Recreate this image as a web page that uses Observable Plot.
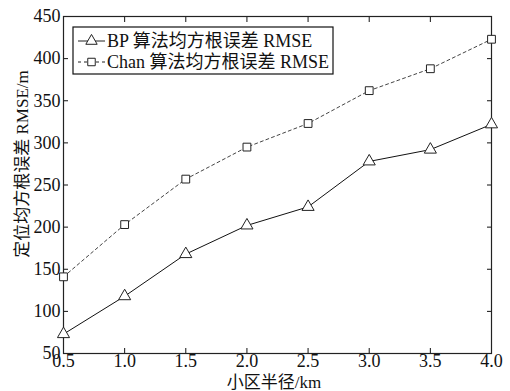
<!DOCTYPE html>
<html>
<head>
<meta charset="utf-8">
<script src="https://cdn.jsdelivr.net/npm/d3@7"></script>
<script src="https://cdn.jsdelivr.net/npm/@observablehq/plot@0.6"></script>
<style>
  html, body { margin: 0; padding: 0; background: #fff; }
  #chart svg { display: block; }
</style>
</head>
<body>
<div id="chart"></div>
<script>
const radius = [0.5, 1.0, 1.5, 2.0, 2.5, 3.0, 3.5, 4.0];
const bpRMSE = [73, 118, 168, 202, 224, 278, 292, 322];
const chanRMSE = [141, 203, 257, 295, 323, 362, 388, 423];
const xTicks = [0.5, 1.0, 1.5, 2.0, 2.5, 3.0, 3.5, 4.0];
const yTicks = [50, 100, 150, 200, 250, 300, 350, 400, 450];
const seriesNames = ["BP 算法均方根误差 RMSE", "Chan 算法均方根误差 RMSE"];
const xLabel = "小区半径/km";
const yLabel = "定位均方根误差 RMSE/m";

const bp = radius.map((r, i) => ({x: r, y: bpRMSE[i]}));
const chan = radius.map((r, i) => ({x: r, y: chanRMSE[i]}));

const FONT = "'Liberation Serif', 'Noto Sans CJK SC', serif";
const W = 510, H = 391;
const mL = 63, mR = 19, mT = 16, mB = 38;

const chart = Plot.plot({
  width: W, height: H,
  marginLeft: mL, marginRight: mR, marginTop: mT, marginBottom: mB,
  style: {fontFamily: FONT, fontSize: "18px", color: "#111", background: "#fff"},
  x: {domain: [0.5, 4.0]},
  y: {domain: [50, 450]},
  marks: [
    Plot.axisX({anchor: "bottom", ticks: xTicks, tickSize: -5, tickPadding: 6, tickFormat: d3.format(".1f"), label: null, fontSize: 18}),
    Plot.axisX({anchor: "top", ticks: xTicks, tickSize: -5, tickFormat: () => "", label: null}),
    Plot.axisY({anchor: "left", ticks: yTicks, tickSize: -5, tickPadding: 8, label: null, fontSize: 18}),
    Plot.axisY({anchor: "right", ticks: yTicks, tickSize: -5, tickFormat: () => "", label: null}),
    Plot.frame({stroke: "#222", strokeWidth: 1.2}),
    Plot.line(chan, {x: "x", y: "y", stroke: "#444", strokeWidth: 1, strokeDasharray: "3,3"}),
    Plot.line(bp, {x: "x", y: "y", stroke: "#111", strokeWidth: 1}),
    Plot.dot(chan, {x: "x", y: "y", symbol: "square", r: 4.4, stroke: "#222", fill: "white", strokeWidth: 1}),
    Plot.dot(bp, {x: "x", y: "y", symbol: "triangle", r: 4.5, stroke: "#222", fill: "white", strokeWidth: 1})
  ]
});

document.getElementById("chart").appendChild(chart);

const svg = d3.select(chart);
// axis titles
svg.append("text")
  .attr("x", 274).attr("y", 382).attr("dy", "0.35em")
  .attr("text-anchor", "middle")
  .style("font-family", FONT).style("font-size", "17px").attr("fill", "#111")
  .text(xLabel);
svg.append("text")
  .attr("transform", `translate(22,164) rotate(-90)`)
  .attr("dy", "0.35em")
  .attr("text-anchor", "middle")
  .style("font-family", FONT).style("font-size", "17px").attr("fill", "#111")
  .text(yLabel);

// legend
const lg = svg.append("g").attr("transform", "translate(73,27)");
lg.append("rect").attr("width", 260).attr("height", 47)
  .attr("fill", "white").attr("stroke", "#111").attr("stroke-width", 1.2);
const rows = [
  {name: seriesNames[0], dash: null, sym: d3.symbolTriangle, size: 56},
  {name: seriesNames[1], dash: "3,3", sym: d3.symbolSquare, size: 56}
];
rows.forEach((r, i) => {
  const cy = 14 + i * 21;
  lg.append("line").attr("x1", 5).attr("x2", 32).attr("y1", cy).attr("y2", cy)
    .attr("stroke", "#222").attr("stroke-width", 1).attr("stroke-dasharray", r.dash);
  lg.append("path").attr("d", d3.symbol(r.sym, r.size)())
    .attr("transform", `translate(18.5,${cy})`)
    .attr("fill", "white").attr("stroke", "#222").attr("stroke-width", 1);
  lg.append("text").attr("x", 34).attr("y", cy).attr("dy", "0.35em")
    .attr("text-anchor", "start")
    .style("font-family", FONT).style("font-size", "18px").attr("fill", "#111")
    .text(r.name);
});
</script>
</body>
</html>
